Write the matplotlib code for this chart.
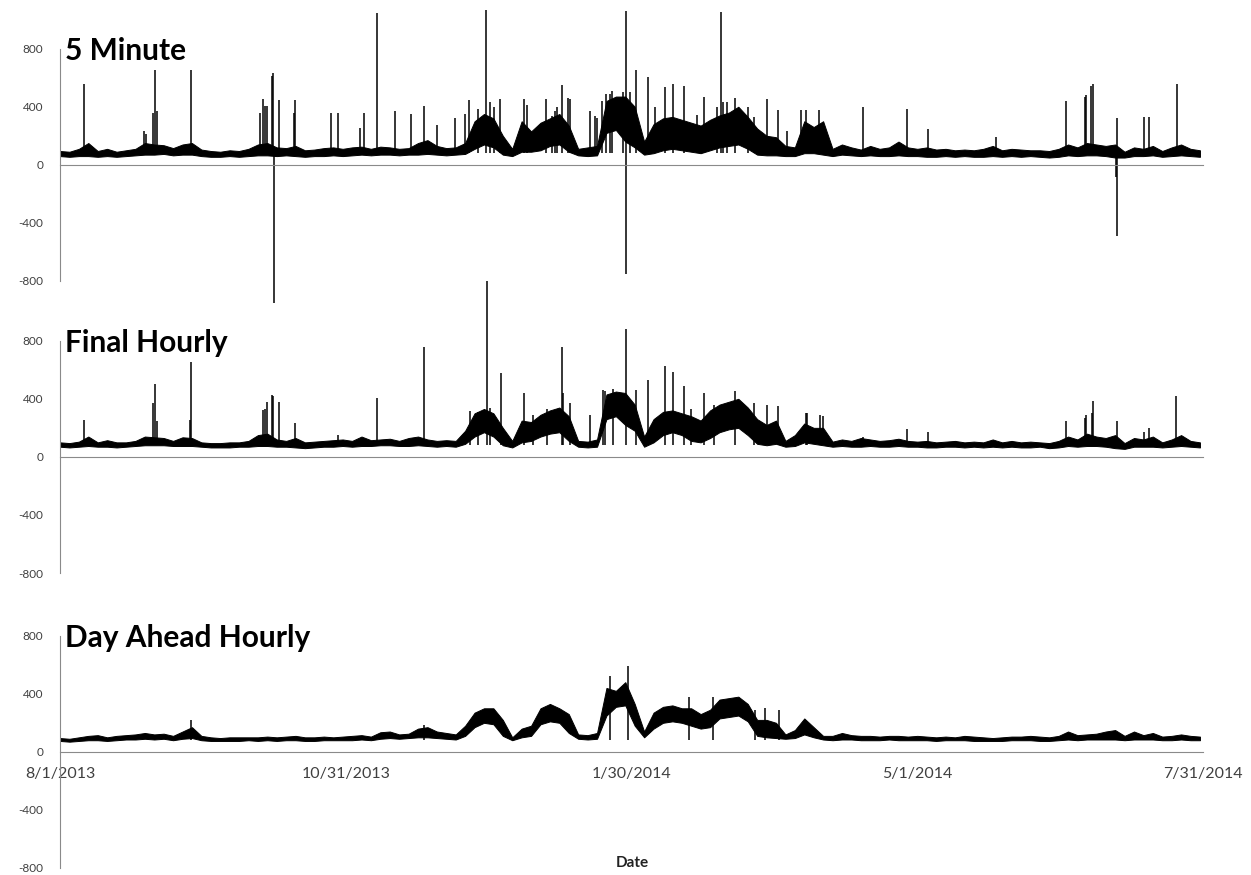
import numpy as np
import matplotlib.pyplot as plt
from datetime import date, timedelta

plt.rcParams['font.family'] = ['Lato', 'DejaVu Sans']

# sample positions: days after 8/1/2013, every third day
days = np.arange(0, 364, 3)

# daily price band (low / high) for each market
fivemin_lo = [60, 55, 60, 60, 55, 60, 55, 60, 65, 70,
              70, 75, 65, 70, 70, 60, 55, 55, 60, 55,
              60, 65, 65, 60, 65, 60, 55, 60, 60, 65,
              60, 65, 70, 65, 70, 70, 65, 70, 70, 75,
              70, 65, 70, 75, 110, 140, 120, 70, 60, 90,
              90, 100, 130, 140, 90, 65, 60, 65, 220, 240,
              160, 120, 70, 80, 100, 110, 100, 90, 80, 100,
              120, 130, 140, 110, 70, 65, 65, 60, 60, 80,
              80, 70, 60, 70, 65, 60, 65, 60, 60, 65,
              60, 60, 55, 55, 60, 55, 60, 55, 55, 60,
              55, 60, 55, 60, 55, 50, 55, 65, 60, 65,
              65, 60, 50, 50, 60, 60, 65, 55, 60, 65,
              60, 55]
fivemin_hi = [95, 90, 110, 150, 95, 110, 90, 100, 110, 150,
              140, 135, 115, 140, 150, 105, 95, 90, 100, 95,
              110, 140, 150, 120, 115, 130, 100, 105, 115, 120,
              110, 120, 125, 110, 125, 120, 110, 115, 150, 170,
              130, 115, 120, 150, 300, 350, 320, 200, 110, 300,
              230, 290, 320, 350, 270, 110, 120, 130, 440, 470,
              470, 400, 160, 280, 320, 330, 310, 290, 270, 310,
              340, 360, 400, 330, 250, 200, 190, 130, 120, 300,
              260, 300, 110, 140, 120, 105, 130, 110, 120, 160,
              120, 110, 120, 105, 110, 100, 105, 100, 110, 130,
              100, 110, 105, 100, 100, 95, 110, 140, 120, 150,
              140, 130, 140, 90, 120, 110, 130, 95, 120, 140,
              110, 100]

final_lo = [70, 65, 70, 75, 70, 70, 65, 70, 75, 80,
            80, 80, 75, 75, 75, 70, 65, 65, 65, 70,
            70, 75, 75, 70, 70, 65, 60, 65, 70, 70,
            75, 70, 75, 75, 80, 80, 75, 75, 80, 75,
            70, 75, 70, 90, 140, 170, 140, 80, 65, 100,
            110, 140, 160, 170, 110, 70, 65, 70, 260, 280,
            220, 180, 70, 100, 150, 170, 150, 110, 100, 130,
            170, 190, 200, 150, 90, 80, 90, 70, 75, 100,
            90, 80, 70, 75, 70, 70, 75, 70, 70, 75,
            70, 70, 65, 65, 70, 70, 65, 70, 65, 70,
            65, 70, 65, 65, 70, 60, 65, 75, 70, 75,
            75, 70, 60, 55, 70, 70, 70, 65, 70, 75,
            70, 65]
final_hi = [100, 95, 105, 140, 100, 115, 100, 100, 110, 140,
            135, 130, 110, 135, 130, 100, 95, 95, 100, 100,
            110, 150, 160, 120, 110, 130, 100, 105, 110, 115,
            120, 110, 140, 115, 120, 125, 110, 130, 140, 120,
            110, 115, 110, 180, 300, 330, 300, 200, 110, 250,
            240, 290, 320, 340, 280, 110, 105, 120, 430, 450,
            440, 360, 140, 260, 310, 320, 300, 280, 250, 320,
            360, 380, 400, 340, 260, 220, 250, 110, 150, 230,
            200, 200, 105, 120, 110, 130, 120, 110, 115, 125,
            110, 105, 110, 100, 105, 110, 100, 105, 100, 120,
            100, 110, 100, 105, 100, 95, 110, 140, 120, 160,
            140, 130, 150, 95, 130, 120, 140, 100, 120, 150,
            110, 100]

dayahead_lo = [75, 70, 75, 80, 80, 75, 80, 85, 85, 90,
               85, 90, 80, 90, 95, 80, 75, 75, 75, 75,
               80, 75, 80, 75, 80, 80, 75, 75, 80, 80,
               80, 80, 85, 80, 90, 95, 90, 95, 100, 100,
               95, 90, 85, 110, 170, 200, 190, 110, 80, 100,
               110, 190, 210, 200, 130, 90, 85, 90, 250, 310,
               320, 180, 100, 160, 200, 210, 200, 180, 160, 170,
               230, 240, 250, 210, 110, 100, 95, 90, 95, 120,
               100, 85, 80, 85, 85, 80, 80, 80, 85, 80,
               80, 80, 80, 75, 80, 80, 80, 75, 75, 75,
               75, 80, 80, 80, 75, 75, 80, 85, 80, 85,
               85, 85, 85, 80, 85, 85, 85, 80, 80, 85,
               80, 80]
dayahead_hi = [95, 90, 100, 110, 115, 100, 110, 115, 120, 130,
               120, 125, 110, 140, 170, 110, 100, 95, 100, 100,
               100, 100, 105, 100, 105, 110, 100, 100, 105, 100,
               105, 110, 115, 105, 135, 140, 120, 125, 160, 170,
               140, 130, 120, 180, 270, 300, 300, 220, 100, 160,
               180, 300, 330, 300, 260, 120, 115, 130, 440, 420,
               480, 330, 140, 270, 310, 320, 300, 300, 260, 290,
               360, 370, 380, 330, 220, 220, 200, 120, 150, 230,
               170, 110, 110, 130, 115, 110, 110, 105, 110, 110,
               105, 110, 105, 100, 105, 100, 110, 105, 100, 95,
               100, 105, 105, 110, 105, 100, 110, 140, 115, 120,
               125, 140, 150, 110, 140, 115, 130, 105, 110, 120,
               110, 105]

# single-interval price spikes (day offset, $/MWh)
fivemin_spike_day = [7.5, 26.8, 27.3, 29.5, 30.2, 31.0, 41.7, 63.6, 64.6, 65.3,
                     65.8, 67.6, 67.9, 69.7, 74.5, 74.8, 86.3, 88.6, 95.5, 96.9,
                     101.0, 106.6, 111.8, 115.9, 120.0, 125.8, 129.0, 130.3, 135.8, 140.1,
                     147.8, 154.7, 157.6, 159.8, 162.4, 168.8, 170.9, 172.7, 175.0, 180.3,
                     183.3, 187.1, 192.7, 195.1, 198.6, 205.0, 211.0, 210.5, 225.0, 228.5,
                     231.4, 236.0, 237.6, 241.7, 255.6, 269.6, 276.5, 298.0, 320.4, 326.3,
                     326.7, 328.4, 328.8, 336.6, 345.3, 346.8, 355.6,
                     133.2, 136.9, 138.3, 148.7, 156.6, 158.4, 161.6, 170.2, 173.8, 175.7,
                     179.4, 181.5, 189.5, 202.8, 209.1, 212.3, 215.0, 219.0, 221.0,
                     68.2, 180.3, 336.4, 336.6]
fivemin_spike_val = [558, 233, 210, 359, 652, 371, 652, 359, 455, 405,
                     405, 610, 634, 446, 355, 446, 359, 359, 256, 359,
                     1046, 371, 350, 405, 275, 325, 350, 446, 1069, 450,
                     451, 451, 371, 547, 451, 371, 320, 440, 490, 1058,
                     652, 604, 535, 556, 540, 469, 430, 1051, 451, 380,
                     230, 376, 376, 376, 398, 385, 250, 190, 440, 465,
                     481, 540, 558, 320, 330, 330, 558,
                     382, 430, 400, 415, 335, 400, 460, 335, 490, 505,
                     500, 500, 400, 340, 400, 435, 460, 400, 330,
                     -955, -750, -87, -488]

final_spike_day = [7.6, 29.5, 30.2, 31.0, 41.5, 41.8, 64.7, 65.2, 65.8, 67.6,
                   67.9, 69.7, 74.8, 88.6, 101.0, 115.9, 130.6, 135.9, 140.3, 147.8,
                   159.7, 160.2, 162.4, 168.9, 173.0, 180.3, 183.3, 187.2, 192.7, 195.1,
                   198.6, 205.1, 208.1, 215.0, 225.0, 228.5, 237.5, 242.0, 255.6, 269.6,
                   276.5, 320.4, 326.3, 326.7, 328.6, 328.8, 336.6, 345.3, 346.8, 355.5,
                   133.0, 137.0, 150.5, 155.0, 173.6, 176.0, 201.0, 221.0, 238.0, 243.0]
final_spike_val = [255, 370, 501, 244, 255, 651, 320, 330, 377, 428,
                   420, 377, 232, 150, 405, 754, 313, 1214, 577, 440,
                   754, 440, 370, 290, 460, 881, 460, 531, 623, 584,
                   490, 440, 360, 451, 360, 350, 305, 290, 140, 193,
                   170, 244, 270, 290, 300, 386, 247, 170, 200, 416,
                   310, 340, 290, 330, 456, 470, 330, 370, 300, 280]

dayahead_spike_day = [41.7, 116.0, 175.0, 180.8, 200.4, 208.0, 221.4, 224.6, 228.9]
dayahead_spike_val = [216, 185, 520, 594, 380, 380, 290, 300, 290]

titles = ['5 Minute', 'Final Hourly', 'Day Ahead Hourly']
yticks = [800, 400, 0, -400, -800]
start = date(2013, 8, 1)
xtick_days = [0, 91, 182, 273, 364]
xtick_labels = ['{d.month}/{d.day}/{d.year}'.format(d=start + timedelta(days=k))
                for k in xtick_days]

series = [
    (fivemin_lo, fivemin_hi, fivemin_spike_day, fivemin_spike_val),
    (final_lo, final_hi, final_spike_day, final_spike_val),
    (dayahead_lo, dayahead_hi, dayahead_spike_day, dayahead_spike_val),
]

axis_grey = '#8a8a8a'
label_grey = '#404040'

fig = plt.figure(figsize=(12.51, 8.75), dpi=100)
bottoms = [0.6789, 0.3451, 0.0080]

for k, (lo, hi, sday, sval) in enumerate(series):
    ax = fig.add_axes([0.048, bottoms[k], 0.9137, 0.2655])
    ax.fill_between(days, lo, hi, color='black', lw=0.7, clip_on=False)
    ax.vlines(sday, 80, sval, color='black', lw=1.1, clip_on=False)

    ax.set_xlim(0, 364)
    ax.set_ylim(-800, 800)
    ax.set_yticks(yticks)
    ax.set_yticklabels([str(v) for v in yticks])
    ax.tick_params(axis='y', length=0, pad=12, labelsize=8.5, labelcolor=label_grey)

    for side in ['top', 'right']:
        ax.spines[side].set_visible(False)
    ax.spines['left'].set_color(axis_grey)
    ax.spines['bottom'].set_color(axis_grey)
    ax.spines['bottom'].set_position(('data', 0))

    ax.set_xticks(xtick_days)
    if k == 2:
        ax.set_xticklabels(xtick_labels)
        ax.tick_params(axis='x', length=0, pad=11, labelsize=11.5, labelcolor=label_grey)
    else:
        ax.tick_params(axis='x', length=0, labelbottom=False)

    ax.text(1.5, 725, titles[k], fontsize=21.5, fontweight='bold', ha='left', va='baseline')
    ax.patch.set_alpha(0)

fig.text(632 / 1251, 1 - 863 / 875, 'Date', ha='center', va='center',
         fontsize=11, fontweight='bold', color='#222222')

fig.savefig('out.png', dpi=100)
